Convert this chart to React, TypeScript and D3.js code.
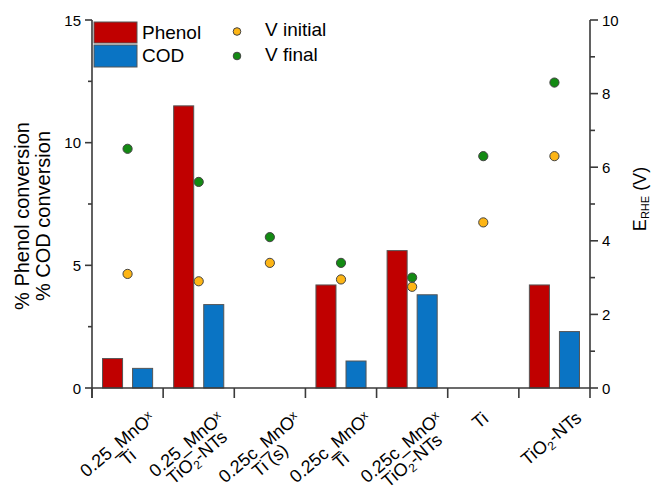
import React from "react";
import * as d3 from "d3";

// ---- data ----
const categories = ["c1", "c2", "c3", "c4", "c5", "c6", "c7"];
// label lines; "~x" = small raised char, "^2" = subscript char
const categoryLabels: string[][] = [
  ["0.25_MnO~x", "Ti"],
  ["0.25_MnO~x", "TiO^2-NTs"],
  ["0.25c_MnO~x", "Ti (s)"],
  ["0.25c_MnO~x", "Ti"],
  ["0.25c_MnO~x", "TiO^2-NTs"],
  ["Ti"],
  ["TiO^2-NTs"],
];
const phenolConv: (number | null)[] = [1.2, 11.5, null, 4.2, 5.6, null, 4.2];
const codConv: (number | null)[] = [0.8, 3.4, null, 1.1, 3.8, null, 2.3];
const vInitial: number[] = [3.1, 2.9, 3.4, 2.95, 2.75, 4.5, 6.3];
const vFinal: number[] = [6.5, 5.6, 4.1, 3.4, 3.0, 6.3, 8.3];
const leftTicks = [0, 5, 10, 15];
const leftMinor = [2.5, 7.5, 12.5];
const rightTicks = [0, 2, 4, 6, 8, 10];
const rightMinor = [1, 3, 5, 7, 9];

const W = 651;
const H = 487;
const FONT = "Liberation Sans";
const AXIS = "#3a3a3a";
const RED = "#c00000";
const BLUE = "#0a74c4";
const ORANGE = "#fdb515";
const GREEN = "#138a13";

type Seg = { t: string; size: number; shift: number };
function parseSegs(s: string, fs: number): Seg[] {
  const out: Seg[] = [];
  const re = /([~^])(.)/g;
  let last = 0;
  let m: RegExpExecArray | null;
  while ((m = re.exec(s)) !== null) {
    if (m.index > last) out.push({ t: s.slice(last, m.index), size: fs, shift: 0 });
    out.push({ t: m[2], size: 12, shift: m[1] === "~" ? -5 : 4 });
    last = m.index + 2;
  }
  if (last < s.length) out.push({ t: s.slice(last), size: fs, shift: 0 });
  return out;
}

let ctx: CanvasRenderingContext2D | null = null;
function measure(t: string, size: number): number {
  if (!ctx && typeof document !== "undefined") {
    ctx = document.createElement("canvas").getContext("2d");
  }
  if (ctx) {
    ctx.font = `${size}px "Liberation Sans"`;
    return ctx.measureText(t).width;
  }
  return t.length * size * 0.55;
}

const x0 = 92, x1 = 590, yTop = 20, yBot = 388;
const x = d3.scaleBand<string>().domain(categories).range([x0, x1]).padding(0);
const sub = d3
  .scaleBand<string>()
  .domain(["Phenol", "COD"])
  .range([0, x.bandwidth()])
  .paddingInner(1 / 3)
  .paddingOuter(0.35);
const yL = d3.scaleLinear().domain([0, 15]).range([yBot, yTop]);
const yR = d3.scaleLinear().domain([0, 10]).range([yBot, yTop]);

const ANGLE = -40;

function labelItems(lines: string[], cx: number) {
  const theta = (ANGLE * Math.PI) / 180;
  const cos = Math.cos(theta), sin = Math.sin(theta);
  const fs = 18, lh = 17, asc = 0.72 * fs, desc = 0.2 * fs;
  let minX = Infinity, maxX = -Infinity, minY = Infinity;
  const items: { t: string; size: number; lx: number; ly: number }[] = [];
  lines.forEach((ln, j) => {
    const segs = parseSegs(ln, fs);
    const widths = segs.map((sg) => measure(sg.t, sg.size));
    const total = d3.sum(widths);
    let cur = -total / 2;
    segs.forEach((sg, k) => {
      items.push({ t: sg.t, size: sg.size, lx: cur, ly: j * lh + sg.shift });
      cur += widths[k];
    });
    const ly = j * lh;
    [[-total / 2, ly - asc], [total / 2, ly - asc], [-total / 2, ly + desc], [total / 2, ly + desc]].forEach(
      ([px, py]) => {
        const rx = px * cos - py * sin;
        const ry = px * sin + py * cos;
        minX = Math.min(minX, rx);
        maxX = Math.max(maxX, rx);
        minY = Math.min(minY, ry);
      }
    );
  });
  const targetCx = cx - (lines.length > 1 ? 10 : 2);
  const tx = Math.round(targetCx - (minX + maxX) / 2);
  const ty = Math.round(410 - minY);
  return items.map((it) => ({ ...it, tx, ty }));
}

export default function App() {
  const series = [
    { key: "Phenol", vals: phenolConv, color: RED },
    { key: "COD", vals: codConv, color: BLUE },
  ];
  const dotSeries = [
    { key: "vi", vals: vInitial, color: ORANGE },
    { key: "vf", vals: vFinal, color: GREEN },
  ];
  const labelTexts = categoryLabels.flatMap((lines, i) =>
    labelItems(lines, (x(categories[i]) as number) + x.bandwidth() / 2).map((it, k) => ({ ...it, key: i + "-" + k }))
  );
  return (
    <svg width={W} height={H} style={{ position: "absolute", left: 0, top: 0, background: "#fff" }}>
      {series.map((s) =>
        categories.map((c, i) => {
          const v = s.vals[i];
          if (v == null) return null;
          return (
            <rect
              key={s.key + c}
              x={(x(c) as number) + (sub(s.key) as number)}
              y={yL(v)}
              width={sub.bandwidth()}
              height={yL(0) - yL(v)}
              fill={s.color}
              stroke="#555"
              strokeWidth={1}
            />
          );
        })
      )}
      {dotSeries.map((s) =>
        categories.map((c, i) => (
          <circle
            key={s.key + c}
            cx={(x(c) as number) + x.bandwidth() / 2}
            cy={yR(s.vals[i])}
            r={4.6}
            fill={s.color}
            stroke="#444"
            strokeWidth={1}
          />
        ))
      )}
      <g stroke={AXIS} strokeWidth={1.6} fill="none">
        <line x1={x0} x2={x0} y1={yTop} y2={yBot + 10} />
        <line x1={x1} x2={x1} y1={yTop} y2={yBot + 10} />
        <line x1={x0} x2={x1} y1={yBot} y2={yBot} />
        {categories.map((c) => (
          <line key={c} x1={x(c)} x2={x(c)} y1={yBot} y2={yBot + 10} />
        ))}
        {leftTicks.map((t) => (
          <line key={"lt" + t} x1={x0 - 7} x2={x0} y1={yL(t)} y2={yL(t)} />
        ))}
        {leftMinor.map((t) => (
          <line key={"lm" + t} x1={x0 - 4} x2={x0} y1={yL(t)} y2={yL(t)} />
        ))}
        {rightTicks.map((t) => (
          <line key={"rt" + t} x1={x1} x2={x1 + 8} y1={yR(t)} y2={yR(t)} />
        ))}
        {rightMinor.map((t) => (
          <line key={"rm" + t} x1={x1} x2={x1 + 5} y1={yR(t)} y2={yR(t)} />
        ))}
      </g>
      {leftTicks.map((t) => (
        <text key={"ll" + t} x={x0 - 11} y={yL(t) + 5.5} textAnchor="end" fontSize={15} fontFamily={FONT}>
          {t}
        </text>
      ))}
      {rightTicks.map((t) => (
        <text key={"rl" + t} x={x1 + 12} y={yR(t) + 5.5} fontSize={15} fontFamily={FONT}>
          {t}
        </text>
      ))}
      <text transform="translate(29,216) rotate(-90)" textAnchor="middle" fontSize={20} fontFamily={FONT}>
        % Phenol conversion
      </text>
      <text transform="translate(50,216) rotate(-90)" textAnchor="middle" fontSize={20} fontFamily={FONT}>
        % COD conversion
      </text>
      <text transform="translate(646,199) rotate(-90)" textAnchor="middle" fontSize={18} fontFamily={FONT}>
        <tspan>E</tspan>
        <tspan fontSize={11} dy={3}>RHE</tspan>
        <tspan dy={-3}> (V)</tspan>
      </text>
      {labelTexts.map((it) => (
        <text
          key={it.key}
          x={it.lx}
          y={it.ly}
          transform={`translate(${it.tx},${it.ty}) rotate(${ANGLE})`}
          fontSize={it.size}
          fontFamily={FONT}
        >
          {it.t}
        </text>
      ))}
      <rect x={94} y={22} width={43} height={21} fill={RED} stroke="#555" />
      <rect x={94} y={45} width={43} height={22} fill={BLUE} stroke="#555" />
      <text x={142} y={39} fontSize={19} fontFamily={FONT}>Phenol</text>
      <text x={142} y={62} fontSize={19} fontFamily={FONT}>COD</text>
      <circle cx={237} cy={31.5} r={3.8} fill={ORANGE} stroke="#444" />
      <circle cx={237} cy={56} r={3.8} fill={GREEN} stroke="#444" />
      <text x={265} y={36} fontSize={19} fontFamily={FONT}>V initial</text>
      <text x={265} y={61} fontSize={19} fontFamily={FONT}>V final</text>
    </svg>
  );
}
